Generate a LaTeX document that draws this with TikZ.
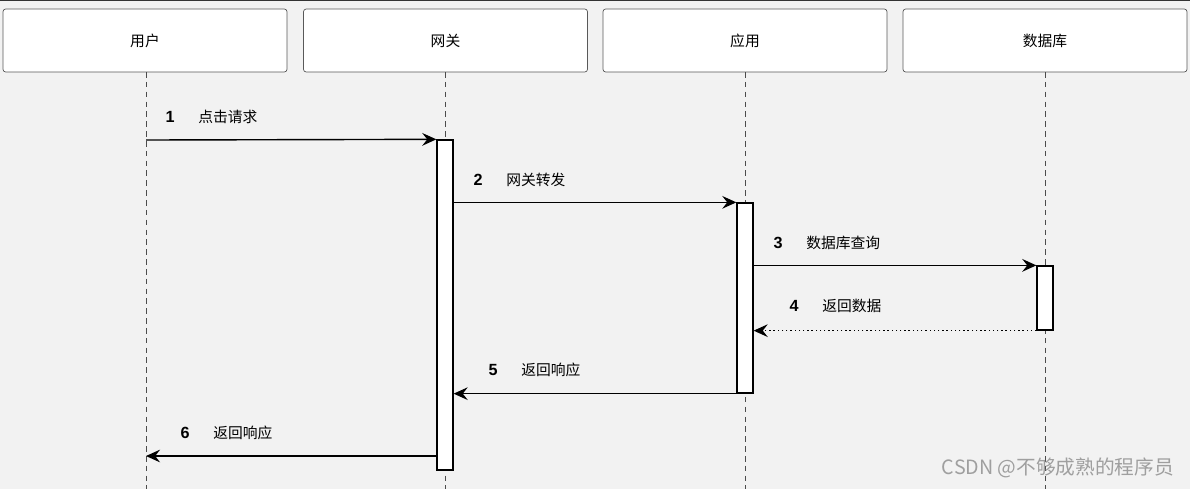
\documentclass[tikz,border=0pt]{standalone}
\usepackage{fontspec}
\setsansfont{Liberation Sans}
\newfontfamily\cjk{Noto Sans CJK SC}
\usetikzlibrary{arrows.meta}
\definecolor{bgcol}{HTML}{F2F2F2}
\definecolor{linecol}{HTML}{333333}
\begin{document}
\begin{tikzpicture}[x=0.025cm,y=-0.025cm,
    actor/.style={draw=gray!70!black,fill=white,rounded corners=2pt,line width=0.5pt,
      minimum width=7.1cm,minimum height=1.575cm,font=\cjk\fontsize{10.5}{12}\selectfont},
    bar/.style={draw=black,fill=white,line width=0.9pt,minimum width=0.4cm,inner sep=0pt},
    life/.style={gray!60!black,line width=0.5pt,dash pattern=on 4pt off 3pt},
    msg/.style={line width=1pt,-{Stealth[length=10pt,width=9pt,inset=3.5pt]}},
    reply/.style={msg,dotted},
    num/.style={font=\sffamily\bfseries\fontsize{11.5}{13}\selectfont,inner sep=0pt},
    lbl/.style={font=\cjk\fontsize{10.5}{12}\selectfont,inner sep=0pt,anchor=west}]

    \fill[bgcol] (0,0) rectangle (1190,489);
    \useasboundingbox (0,0) rectangle (1190,489);
    \draw[linecol,line width=0.8pt] (0,0.5) -- (1190,0.5);

    \node[actor] (user) at (145,40.5) {用户};
    \node[actor] (gate) at (445.5,40.5) {网关};
    \node[actor] (app) at (745,40.5) {应用};
    \node[actor] (db) at (1045,40.5) {数据库};

    \foreach \a/\x in {user/146,gate/445,app/745,db/1045}
    \draw[life] (\x,72) -- (\x,489);

    \node[bar,minimum height=8.25cm] (gatebar) at (445,305) {};
    \node[bar,minimum height=4.75cm] (appbar) at (745,298) {};
    \node[bar,minimum height=1.6cm] (dbbar) at (1045,298) {};

    \coordinate (userreq) at (146,140);
    \coordinate (userres) at (146,456);

    \draw[msg] (userreq) -- (gatebar.north west);
    \draw[msg] (gatebar.east |- appbar.north) -- (appbar.north west);
    \draw[msg] (appbar.east |- dbbar.north) -- (dbbar.north west);
    \draw[reply] (dbbar.south west) -- (appbar.east |- dbbar.south);
    \draw[msg] (appbar.south west) -- (gatebar.east |- appbar.south);
    \draw[msg] (gatebar.west |- userres) -- (userres);

    \foreach \n/\x/\y/\t in {1/170/117/点击请求,2/478/180/网关转发,3/778/243/数据库查询,
      4/794/306/返回数据,5/493/370/返回响应,6/185/433/返回响应} {
      \node[num] (num\n) at (\x,\y) {\n};
      \node[lbl] (lbl\n) at (\x+28,\y) {\t};
    }

    \node[font=\cjk\fontsize{14}{16}\selectfont,text=gray!75,inner sep=0pt] (mark) at (1058,468) {CSDN @不够成熟的程序员};
\end{tikzpicture}
\end{document}
